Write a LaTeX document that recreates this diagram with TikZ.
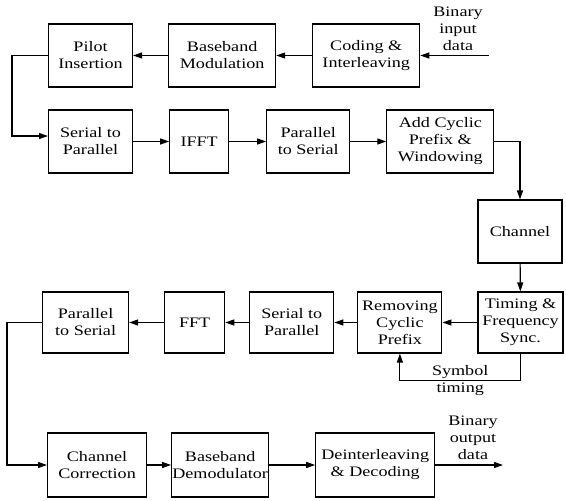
\documentclass[tikz,border=0pt]{standalone}
\usepackage{fontspec}
\setmainfont{Liberation Serif}[FakeStretch=1.25]
\usetikzlibrary{arrows.meta,positioning}

\begin{document}
\begin{tikzpicture}[x=1pt,y=-1pt,>={Triangle[length=9pt,width=6pt]},
    font=\fontsize{14.5}{17}\selectfont,line width=1.1pt,
    box/.style={draw,align=center,inner sep=0pt,minimum height=63pt},
    lbl/.style={align=center,inner sep=0pt}]
    \useasboundingbox (0,0) rectangle (566,501);
    % transmitter, first row
    \node[box,minimum width=84pt,anchor=west] (pilot) at (48,55.5) {Pilot\\Insertion};
    \node[box,minimum width=107pt,right=35pt of pilot] (bbmod) {Baseband\\Modulation};
    \node[box,minimum width=107pt,right=36pt of bbmod] (coding) {Coding \&\\Interleaving};
    \coordinate (in) at (489,55.5);
    \node[lbl] (inlbl) at (458,29) {Binary\\input\\data};
    \draw[->] (in) -- (coding);
    \draw[->] (coding) -- (bbmod);
    \draw[->] (bbmod) -- (pilot);
    % transmitter, second row
    \node[box,minimum width=84pt,anchor=west] (sp) at (48,141.5) {Serial to\\Parallel};
    \node[box,minimum width=59pt,right=36pt of sp] (ifft) {IFFT};
    \node[box,minimum width=83pt,right=37pt of ifft] (ps) {Parallel\\to Serial};
    \node[box,minimum width=107pt,right=36pt of ps] (addcp) {Add Cyclic\\Prefix \&\\Windowing};
    \draw[->] (pilot.west) -- ++(-36,0) |- ([yshift=5.5pt]sp.west);
    \draw[->] (sp) -- (ifft);
    \draw[->] (ifft) -- (ps);
    \draw[->] (ps) -- (addcp);
    % channel
    \node[box,minimum width=84pt] (chan) at (520,231.5) {Channel};
    \draw[->] (addcp.east) -| (chan.north);
    % receiver, first row
    \node[box,minimum width=85pt,minimum height=61pt] (sync) at (520.5,322.5) {Timing \&\\Frequency\\Sync.};
    \node[box,minimum width=84pt,minimum height=61pt,left=35pt of sync] (remcp) {Removing\\Cyclic\\Prefix};
    \node[box,minimum width=84pt,minimum height=61pt,left=23pt of remcp] (rsp) {Serial to\\Parallel};
    \node[box,minimum width=60pt,minimum height=61pt,left=24pt of rsp] (fft) {FFT};
    \node[box,minimum width=86pt,minimum height=61pt,left=35pt of fft] (rps) {Parallel\\to Serial};
    \draw[->] (chan) -- (sync);
    \draw[->] (sync) -- (remcp);
    \draw[->] (remcp) -- (rsp);
    \draw[->] (rsp) -- (fft);
    \draw[->] (fft) -- (rps);
    \draw[->] (sync.south) -- ++(0,27) -| node[pos=0.25,lbl] {Symbol\\timing} (remcp.south);
    % receiver, second row
    \node[box,minimum width=99pt,minimum height=64pt,anchor=west] (corr) at (47,465) {Channel\\Correction};
    \node[box,minimum width=97pt,minimum height=64pt,right=24pt of corr] (demod) {Baseband\\Demodulator};
    \node[box,minimum width=119pt,minimum height=64pt,right=46pt of demod] (decod) {Deinterleaving\\\& Decoding};
    \coordinate (out) at (503,465);
    \node[lbl] (outlbl) at (473,438) {Binary\\output\\data};
    \draw[->] (rps.west) -- ++(-35,0) |- (corr.west);
    \draw[->] (corr) -- (demod);
    \draw[->] (demod) -- (decod);
    \draw[->] (decod) -- (out);
\end{tikzpicture}
\end{document}
